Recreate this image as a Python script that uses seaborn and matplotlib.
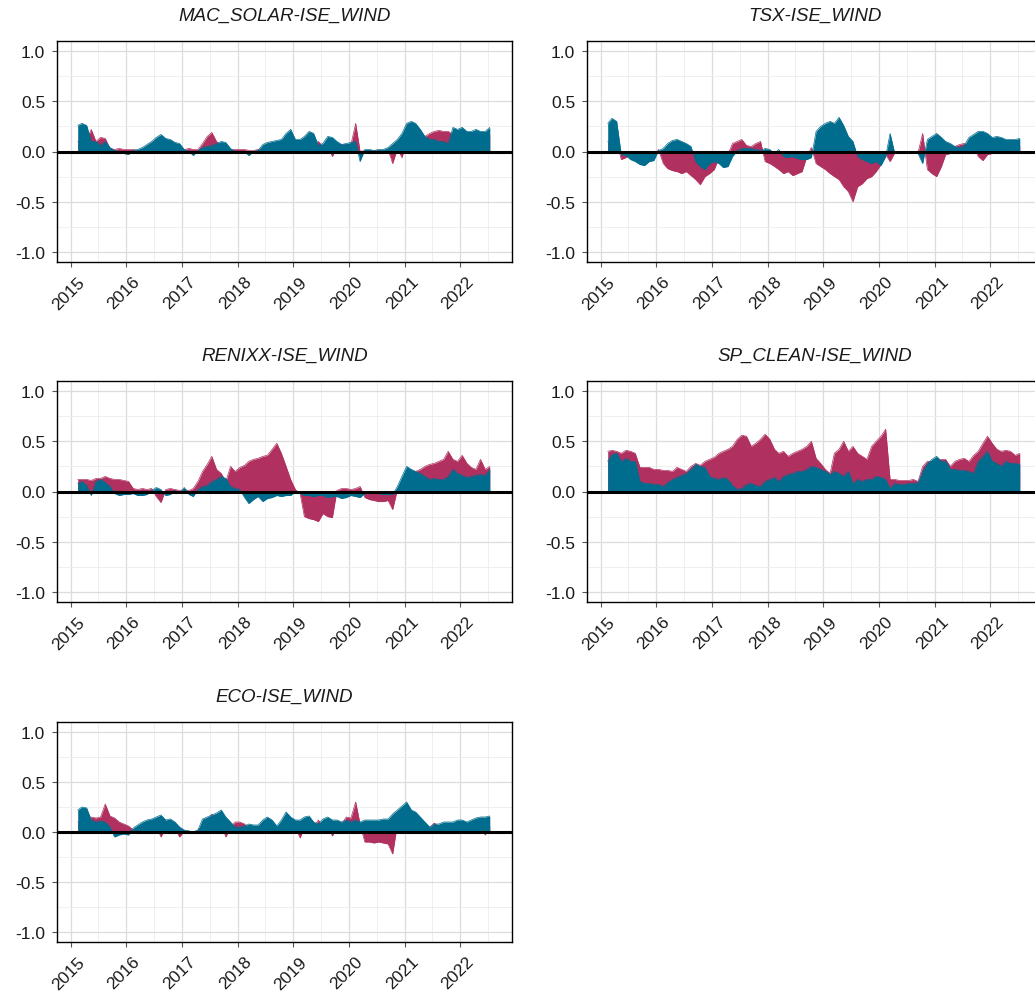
import numpy as np
import pandas as pd
import matplotlib
matplotlib.use("Agg")
import matplotlib.pyplot as plt
import matplotlib.dates as mdates
from matplotlib.ticker import MultipleLocator, FormatStrFormatter
from matplotlib.transforms import ScaledTranslation
import seaborn as sns

# ---------------- data (monthly readings, Feb 2015 .. Jul 2022) ----------------
titles = ["MAC_SOLAR-ISE_WIND", "TSX-ISE_WIND", "RENIXX-ISE_WIND",
          "SP_CLEAN-ISE_WIND", "ECO-ISE_WIND"]

p1_blue = [.26, .28, .26, .10, .10, .06, .10, .04, .01, .00, -.02,
           -.03, .01, .02, .04, .07, .10, .14, .17, .13, .12, .09, .08,
           .02, .00, -.04, .01, .04, .05, .06, .08, .10, .09, .03, .00,
           .00, .00, -.04, .00, .01, .07, .09, .10, .11, .12, .18, .22,
           .12, .12, .15, .20, .18, .06, .08, .15, .14, .10, .07, .08,
           .09, .10, -.10, .02, .02, .01, .02, .02, .04, .08, .12, .18,
           .28, .30, .28, .22, .15, .12, .12, .10, .10, .08, .24, .22,
           .24, .20, .20, .22, .20, .20, .24]
p1_red = [.10, .12, .12, .22, .10, .14, .13, .03, .02, .03, .02,
          .02, .02, .01, .02, .03, .04, .05, .06, .05, .05, .04, .03,
          .02, .03, .02, .02, .08, .15, .19, .10, .05, .04, .02, .02,
          .02, .02, .01, .01, .02, .03, .04, .05, .05, .05, .06, .07,
          .06, .06, .07, .08, .07, .10, .05, .06, -.05, .05, .07, .07,
          .07, .28, .00, .01, .01, .01, .01, .01, .02, -.12, .03, -.06,
          .10, .12, .13, .12, .15, .18, .20, .21, .20, .20, .17, .15,
          .15, .15, .15, .16, .18, .17, .17]

p2_blue = [.28, .33, .30, -.03, -.04, -.08, -.10, -.13, -.14, -.10, -.09,
           .01, .03, .08, .11, .12, .10, .08, .05, -.10, -.15, -.18, -.12,
           -.10, -.12, -.16, -.15, -.05, .01, .03, .03, .03, .02, .01, .03,
           .02, -.02, .02, -.05, -.06, -.05, -.07, -.08, -.08, -.06, .20, .25,
           .28, .30, .28, .34, .26, .15, .10, -.05, -.08, -.10, -.12, -.10,
           -.14, -.05, .18, -.02, -.02, -.02, -.01, -.01, -.02, -.12, .12, .15,
           .18, .14, .10, .08, .05, .04, .06, .14, .17, .20, .20, .18,
           .14, .15, .14, .12, .12, .12, .13]
p2_red = [.10, .12, .10, -.08, -.06, -.03, -.04, -.05, -.06, -.05, -.05,
          .02, -.12, -.17, -.19, -.20, -.22, -.20, -.24, -.28, -.33, -.25, -.22,
          -.18, -.06, -.05, -.03, .08, .10, .12, .06, .05, .08, .10, -.10,
          -.12, -.15, -.18, -.22, -.20, -.24, -.22, -.20, -.05, .04, -.12, -.15,
          -.18, -.22, -.25, -.28, -.35, -.40, -.50, -.35, -.32, -.27, -.25, -.20,
          -.13, -.03, -.10, -.01, -.01, -.01, -.01, -.02, -.01, .18, -.18, -.22,
          -.25, -.15, -.03, -.02, .05, .07, .08, .05, .06, -.05, -.09, -.03,
          -.02, -.02, .05, .05, .06, .06, .06]

p3_blue = [.08, .10, .06, -.04, .10, .12, .09, .05, -.02, -.04, -.03,
           -.03, -.02, -.04, -.04, -.03, .01, .04, .02, -.04, -.03, .01, -.02,
           .04, -.03, -.05, .02, .05, .06, .10, .12, .15, .13, .05, .03,
           .02, -.06, -.12, -.08, -.05, -.10, -.07, -.06, -.04, -.05, -.04, -.04,
           .00, -.02, -.04, -.04, -.05, -.04, -.04, -.06, -.05, -.05, -.07, -.06,
           -.04, -.05, -.06, -.02, -.02, -.02, -.02, -.03, -.03, -.03, .05, .15,
           .25, .22, .20, .18, .15, .12, .13, .12, .12, .15, .22, .18,
           .16, .14, .15, .16, .17, .16, .22]
p3_red = [.12, .12, .12, .11, .13, .13, .15, .13, .12, .12, .11,
          .10, .03, .02, .03, .02, .03, -.05, -.11, .02, .03, .02, .01,
          .02, .01, .03, .10, .20, .27, .35, .22, .18, .10, .25, .20,
          .24, .26, .30, .32, .33, .35, .36, .42, .48, .38, .25, .12,
          .02, -.02, -.25, -.27, -.28, -.30, -.22, -.25, -.26, .01, .03, .03,
          .02, .03, .05, -.06, -.08, -.09, -.10, -.10, -.09, -.18, .02, .10,
          .18, .20, .20, .22, .25, .27, .28, .30, .32, .40, .32, .30,
          .36, .28, .24, .22, .32, .22, .25]

p4_blue = [.30, .37, .38, .30, .33, .30, .30, .10, .08, .08, .07,
           .07, .05, .09, .12, .14, .16, .18, .22, .27, .25, .24, .15,
           .13, .12, .14, .12, .06, .02, .03, .07, .08, .06, .05, .10,
           .12, .14, .10, .15, .17, .18, .20, .20, .22, .25, .24, .22,
           .20, .17, .20, .18, .15, .20, .08, .12, .10, .12, .12, .15,
           .14, .12, .03, .08, .07, .07, .08, .08, .09, .20, .28, .32,
           .35, .30, .30, .22, .22, .21, .21, .20, .18, .30, .35, .40,
           .30, .28, .25, .30, .28, .28, .27]
p4_red = [.40, .41, .40, .38, .41, .40, .38, .24, .24, .24, .22,
          .22, .21, .21, .20, .24, .22, .20, .25, .28, .26, .30, .32,
          .34, .38, .40, .42, .45, .52, .56, .55, .45, .48, .52, .57,
          .52, .42, .38, .40, .35, .38, .40, .42, .45, .50, .33, .28,
          .22, .18, .38, .42, .50, .40, .45, .38, .35, .32, .45, .50,
          .55, .62, .12, .12, .11, .11, .11, .12, .10, .25, .30, .30,
          .32, .32, .32, .25, .30, .32, .33, .30, .36, .40, .48, .55,
          .48, .42, .40, .41, .40, .36, .38]

p5_blue = [.22, .25, .24, .12, .10, .11, .10, .05, -.05, -.03, -.02,
           -.03, .04, .07, .10, .12, .13, .15, .17, .12, .13, .10, .05,
           .02, .01, .00, .02, .13, .15, .17, .19, .22, .15, .10, .05,
           .05, .06, .08, .07, .07, .12, .15, .12, .06, .12, .20, .15,
           .12, .12, .15, .16, .10, .08, .13, .15, .12, .12, .10, .12,
           .10, .12, .10, .12, .12, .12, .12, .13, .13, .18, .22, .26,
           .30, .22, .20, .15, .10, .05, .08, .08, .10, .10, .10, .12,
           .12, .10, .12, .14, .15, .15, .16]
p5_red = [.10, .10, .08, .15, .14, .15, .28, .16, .14, .10, .08,
          .06, .02, .03, .04, .05, .05, .06, -.05, .05, .05, .04, -.05,
          .01, .01, -.01, .02, .06, .08, .18, .08, .08, -.05, .05, .10,
          .10, .08, .04, .03, .03, .05, .06, .05, .03, .05, .07, .06,
          .05, -.06, .05, .06, .05, .12, .05, .06, -.04, .06, .08, .15,
          .14, .30, .08, -.10, -.10, -.11, -.10, -.11, -.12, -.22, .08, .10,
          .12, .10, .10, .08, .06, .04, .09, .05, .05, .05, .05, .05,
          .05, .05, .05, .06, .06, -.03, .06]

blues = [p1_blue, p2_blue, p3_blue, p4_blue, p5_blue]
reds = [p1_red, p2_red, p3_red, p4_red, p5_red]

dates = pd.date_range("2015-02-01", periods=len(p1_blue), freq="MS") + pd.Timedelta(days=14)

BLUE = "#006C8E"
RED = "#B03060"

# ---------------- styling ----------------
sns.set_theme(style="white")
plt.rcParams["font.family"] = ["Liberation Sans", "DejaVu Sans"]

W, H = 1035, 1003
fig = plt.figure(figsize=(W / 100, H / 100), dpi=100)
boxes = [(57, 42, 455, 221), (587, 42, 455, 221), (57, 382, 455, 221),
         (587, 382, 455, 221), (57, 723, 455, 220)]

for i, (x0, y0, w, h) in enumerate(boxes):
    ax = fig.add_axes([x0 / W, 1 - (y0 + h) / H, w / W, h / H])
    df = pd.DataFrame({"date": dates, "blue": blues[i], "red": reds[i]})

    ax.fill_between(df["date"], 0, df["red"], color=RED, lw=0, zorder=2)
    sns.lineplot(data=df, x="date", y="red", color=RED, lw=0.5, ax=ax, zorder=2)
    ax.fill_between(df["date"], 0, df["blue"], color=BLUE, lw=0, zorder=3)
    sns.lineplot(data=df, x="date", y="blue", color=BLUE, lw=0.5, ax=ax, zorder=3)
    ax.axhline(0, color="black", lw=2.2, zorder=5)

    ax.set_xlim(pd.Timestamp("2014-10-02"), pd.Timestamp("2022-12-08"))
    ax.set_ylim(-1.1, 1.1)
    ax.xaxis.set_major_locator(mdates.YearLocator())
    ax.xaxis.set_minor_locator(mdates.MonthLocator(bymonth=7))
    ax.xaxis.set_major_formatter(mdates.DateFormatter("%Y"))
    ax.yaxis.set_major_locator(MultipleLocator(0.5))
    ax.yaxis.set_minor_locator(MultipleLocator(0.25))
    ax.yaxis.set_major_formatter(FormatStrFormatter("%.1f"))

    ax.set_axisbelow(True)
    ax.grid(which="major", color="#dcdcdc", lw=0.9, zorder=0)
    ax.grid(which="minor", color="#ececec", lw=0.6, zorder=0)
    ax.tick_params(which="major", length=3.5, width=0.8, color="#555555",
                   labelsize=12.5, labelcolor="#1a1a1a",
                   bottom=True, left=True)
    ax.tick_params(axis="y", pad=5)
    ax.tick_params(axis="x", pad=2)
    ax.tick_params(which="minor", length=0)
    offset = ScaledTranslation(0.06, -0.04, fig.dpi_scale_trans)
    for lab in ax.get_xticklabels():
        lab.set_rotation(45)
        lab.set_ha("right")
        lab.set_va("top")
        lab.set_rotation_mode("anchor")
        lab.set_transform(lab.get_transform() + offset)
    for sp in ax.spines.values():
        sp.set_color("black")
        sp.set_linewidth(1.0)
    ax.set_xlabel("")
    ax.set_ylabel("")
    ax.set_title(titles[i], fontstyle="italic", fontsize=13.5, pad=15,
                 color="#1a1a1a")

fig.savefig("out.png", dpi=100)
